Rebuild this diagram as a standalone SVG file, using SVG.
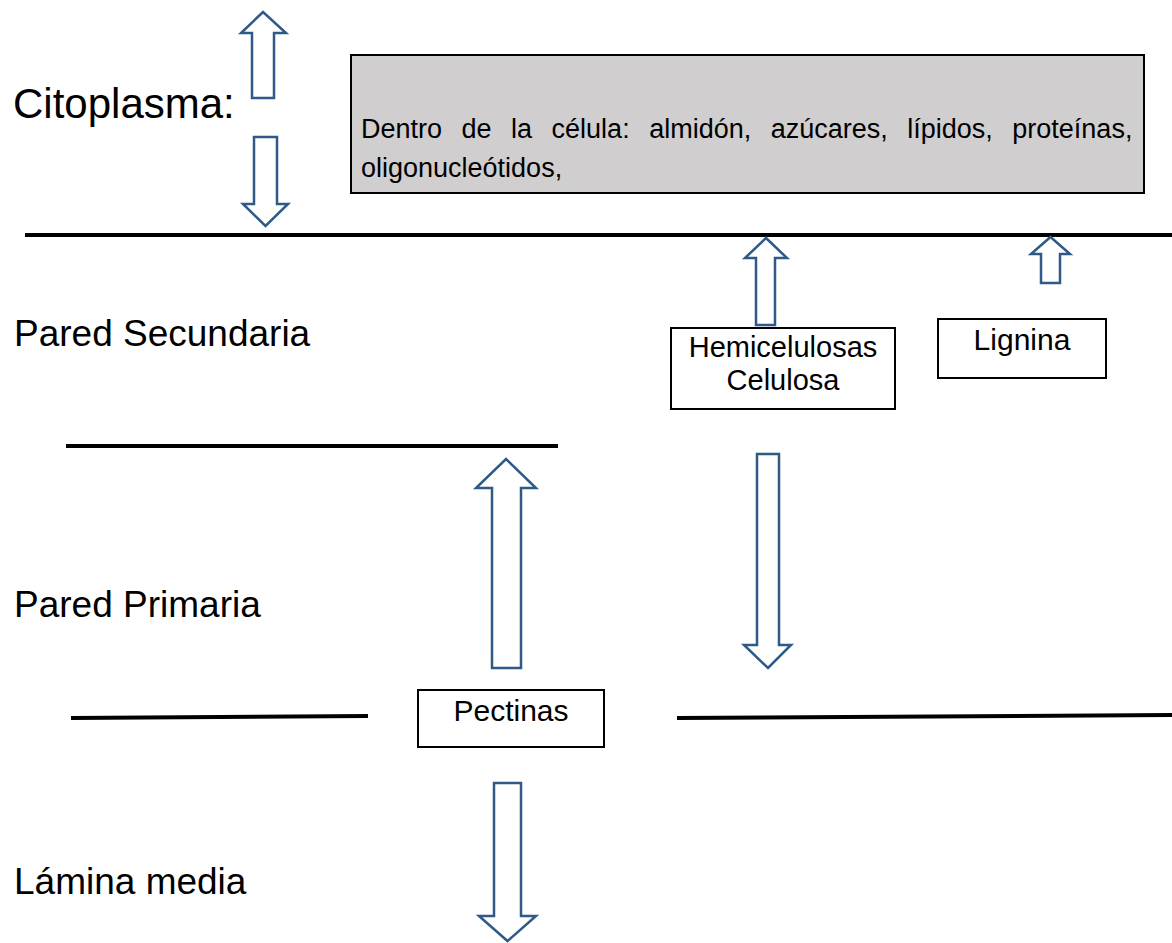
<svg xmlns="http://www.w3.org/2000/svg" width="1172" height="943" viewBox="0 0 1172 943">
<style>
text{font-family:"Liberation Sans",Arial,sans-serif;fill:#000}
.lbl{font-size:37px}
.box{fill:#fff;stroke:#000;stroke-width:2}
.arr{fill:#fff;stroke:#2F5A87;stroke-width:2.5;stroke-linejoin:miter}
.ln{stroke:#000;stroke-width:4;fill:none}
</style>
<rect width="1172" height="943" fill="#fff"/>
<g id="labels">
<text x="13" y="118" style="font-size:42px">Citoplasma:</text>
<text class="lbl" x="14" y="346">Pared Secundaria</text>
<text class="lbl" x="14" y="617">Pared Primaria</text>
<text class="lbl" x="14" y="894">Lámina media</text>
</g>
<g id="layers">
<line class="ln" x1="25" y1="235" x2="1172" y2="235"/>
<line class="ln" x1="66" y1="446" x2="558" y2="446"/>
<line class="ln" x1="71" y1="718" x2="368" y2="716"/>
<line class="ln" x1="677" y1="718" x2="1172" y2="715"/>
</g>
<g id="citoplasma-box">
<rect x="351" y="55" width="793" height="138" fill="#D0CECF" stroke="#000" stroke-width="2"/>
<text x="361" y="138" style="font-size:27px" word-spacing="12">Dentro de la célula: almidón, azúcares, lípidos, proteínas,</text>
<text x="361" y="177" style="font-size:27px">oligonucleótidos,</text>
</g>
<g id="hemicelulosas">
<rect class="box" x="671" y="328" width="224" height="81"/>
<text x="783" y="357" style="font-size:29px" text-anchor="middle">Hemicelulosas</text>
<text x="783" y="390" style="font-size:29px" text-anchor="middle">Celulosa</text>
</g>
<g id="lignina">
<rect class="box" x="938" y="319" width="168" height="59"/>
<text x="1022" y="350" style="font-size:30px" text-anchor="middle">Lignina</text>
</g>
<g id="pectinas">
<rect class="box" x="418" y="690" width="186" height="57"/>
<text x="511" y="721" style="font-size:30px" text-anchor="middle">Pectinas</text>
</g>
<g id="connectors">
<polygon class="arr" points="263,12 286,33 274,33 274,98 252,98 252,33 241,33"/>
<polygon class="arr" points="254,137 277,137 277,204 288,204 265.5,226 243,204 254,204"/>
<polygon class="arr" points="766,238 787,258 775,258 775,325 756,325 756,258 745,258"/>
<polygon class="arr" points="1050.5,237 1070,254 1060,254 1060,283 1041,283 1041,254 1031,254"/>
<polygon class="arr" points="506,459 536,488 521,488 521,668 492,668 492,488 476,488"/>
<polygon class="arr" points="757,454 779,454 779,645 791,645 768,668 744,645 757,645"/>
<polygon class="arr" points="494,783 521,783 521,916 536,916 507.5,941 479,916 494,916"/>
</g>
</svg>
